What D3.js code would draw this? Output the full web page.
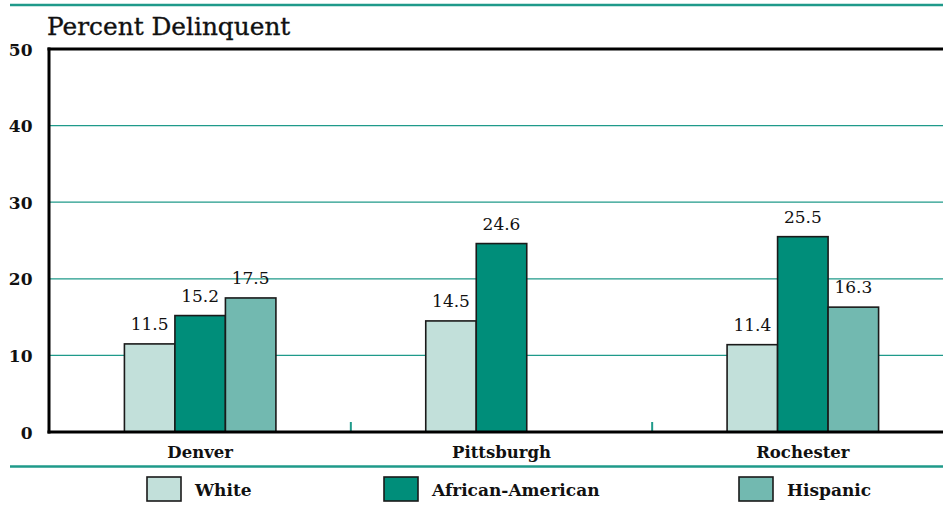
<!DOCTYPE html>
<html><head><meta charset="utf-8">
<script src="https://cdn.jsdelivr.net/npm/d3@7"></script>
<style>html,body{margin:0;padding:0;background:#fff;}svg{display:block;}</style>
</head><body>
<svg id="chart" width="943" height="506"></svg>
<script>
const categories = ["Denver", "Pittsburgh", "Rochester"];
const seriesNames = ["White", "African-American", "Hispanic"];
const whiteValues = [11.5, 14.5, 11.4];
const africanAmericanValues = [15.2, 24.6, 25.5];
const hispanicValues = [17.5, null, 16.3];
const yTicks = [0, 10, 20, 30, 40, 50];
const chartTitle = "Percent Delinquent";

(function () {
const colors = ["#c2e0da", "#008e7a", "#72b9b0"];
const teal = "#1f9a8a";
const serif = "'DejaVu Serif', serif";

const svg = d3.select("#chart");
const pL = 49, pT = 49, pB = 432, pR = 943;

const y = d3.scaleLinear().domain([0, 50]).range([pB, pT]);
const x = d3.scaleBand().domain(categories).range([pL + 0.5, 953.5]).paddingInner(0).paddingOuter(0);
const barW = 50.5;
const xs = d3.scaleBand().domain(seriesNames).range([-barW * 1.5, barW * 1.5]);

// top and bottom rules
svg.append("line").attr("x1", 10).attr("x2", 943).attr("y1", 5).attr("y2", 5)
  .attr("stroke", teal).attr("stroke-width", 2.5);
svg.append("line").attr("x1", 10).attr("x2", 943).attr("y1", 466.5).attr("y2", 466.5)
  .attr("stroke", teal).attr("stroke-width", 2.5);

// title
svg.append("text").attr("x", 47).attr("y", 35).text(chartTitle)
  .attr("font-family", serif).attr("font-size", 24.8).attr("fill", "#111")
  .attr("stroke", "#111").attr("stroke-width", 0.35);

// gridlines
svg.append("g").selectAll("line").data(yTicks.filter(d => d > 0 && d < 50)).join("line")
  .attr("x1", pL).attr("x2", pR)
  .attr("y1", d => y(d)).attr("y2", d => y(d))
  .attr("stroke", teal).attr("stroke-width", 1.3);

// y axis tick labels
const yAxis = d3.axisLeft(y).tickValues(yTicks).tickSize(0).tickPadding(0);
const ga = svg.append("g").attr("transform", `translate(32.5,0)`).call(yAxis);
ga.select(".domain").remove();
ga.selectAll("text").attr("font-family", serif).attr("font-weight", "bold")
  .attr("font-size", 17).attr("fill", "#111").attr("dy", "0.36em");

// category boundary ticks
svg.append("g").selectAll("line").data(categories.slice(1)).join("line")
  .attr("x1", d => x(d)).attr("x2", d => x(d))
  .attr("y1", pB - 10).attr("y2", pB)
  .attr("stroke", teal).attr("stroke-width", 2);

// bars
const rows = [];
categories.forEach((c, i) => {
  [whiteValues, africanAmericanValues, hispanicValues].forEach((arr, j) => {
    if (arr[i] != null) rows.push({ c, s: seriesNames[j], v: arr[i], j });
  });
});
const cx = c => x(c) + x.bandwidth() / 2;
svg.append("g").selectAll("rect").data(rows).join("rect")
  .attr("x", d => cx(d.c) + xs(d.s))
  .attr("width", xs.bandwidth())
  .attr("y", d => y(d.v))
  .attr("height", d => y(0) - y(d.v))
  .attr("fill", d => colors[d.j])
  .attr("stroke", "#1a1a1a").attr("stroke-width", 1.6);

// value labels
svg.append("g").selectAll("text").data(rows).join("text")
  .attr("x", d => cx(d.c) + xs(d.s) + xs.bandwidth() / 2)
  .attr("y", d => y(d.v) - 14)
  .attr("text-anchor", "middle")
  .attr("font-family", serif).attr("font-size", 17).attr("fill", "#111")
  .text(d => d.v.toFixed(1));

// frame
svg.append("line").attr("x1", pL).attr("x2", pL).attr("y1", pT - 1.5).attr("y2", pB + 1.5)
  .attr("stroke", "#000").attr("stroke-width", 3);
svg.append("line").attr("x1", pL - 1.5).attr("x2", pR).attr("y1", pT).attr("y2", pT)
  .attr("stroke", "#000").attr("stroke-width", 3);
svg.append("line").attr("x1", pL - 1.5).attr("x2", pR).attr("y1", pB).attr("y2", pB)
  .attr("stroke", "#000").attr("stroke-width", 3);

// category labels
svg.append("g").selectAll("text").data(categories).join("text")
  .attr("x", d => cx(d)).attr("y", 458)
  .attr("text-anchor", "middle")
  .attr("font-family", serif).attr("font-weight", "bold").attr("font-size", 16.5).attr("fill", "#111")
  .text(d => d);

// legend
const legendX = [147, 384, 739];
const lg = svg.append("g").selectAll("g").data(seriesNames).join("g")
  .attr("transform", (d, i) => `translate(${legendX[i]},477)`);
lg.append("rect").attr("width", 34).attr("height", 24)
  .attr("fill", (d, i) => colors[i]).attr("stroke", "#1a1a1a").attr("stroke-width", 1.6);
lg.append("text").attr("x", 48).attr("y", 19)
  .attr("font-family", serif).attr("font-weight", "bold").attr("font-size", 17).attr("fill", "#111")
  .text(d => d);
})();
</script>
</body></html>
